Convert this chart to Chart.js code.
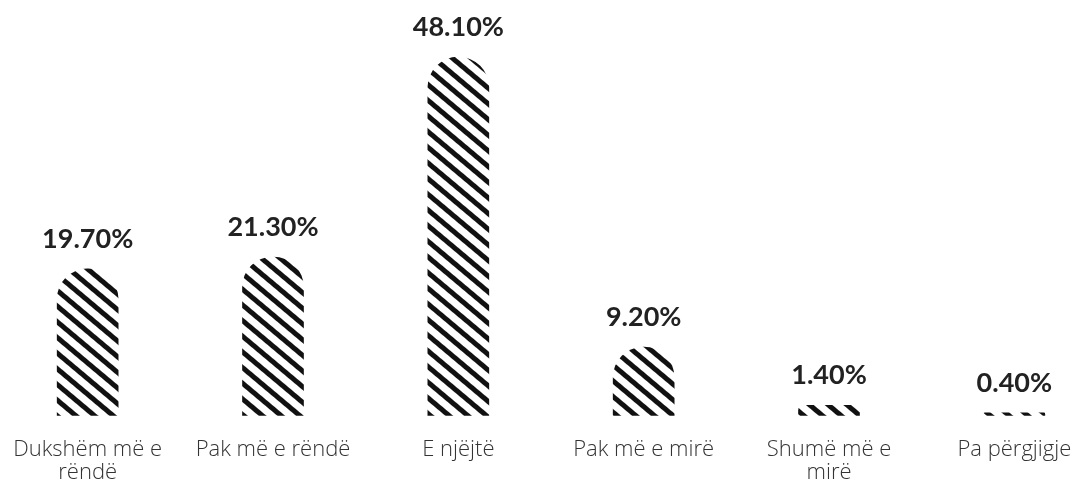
<!DOCTYPE html>
<html>
<head>
<meta charset="utf-8">
<script src="https://cdn.jsdelivr.net/npm/chart.js@4"></script>
<style>
  html, body { margin: 0; padding: 0; background: #fff; overflow: hidden; }
  #wrap { position: absolute; left: -5px; top: 0; width: 1112px; height: 498px; }
</style>
</head>
<body>
<div id="wrap"><canvas id="chart"></canvas></div>
<script>
const categories = [['Dukshëm më e', 'rëndë'], 'Pak më e rëndë', 'E njëjtë', 'Pak më e mirë', ['Shumë më e', 'mirë'], 'Pa përgjigje'];
const values = [19.7, 21.3, 48.1, 9.2, 1.4, 0.4];

// diagonal stripes like the original
function stripes() {
  const tile = document.createElement('canvas');
  tile.width = 12; tile.height = 12;
  const c = tile.getContext('2d');
  c.fillStyle = '#fff';
  c.fillRect(0, 0, 12, 12);
  c.fillStyle = '#111';
  c.fillRect(0, 0, 12, 5);
  const p = document.getElementById('chart').getContext('2d').createPattern(tile, 'repeat');
  p.setTransform(new DOMMatrix().rotate(40));
  return p;
}

const valueLabels = {
  id: 'valueLabels',
  afterDatasetsDraw(chart) {
    const ctx = chart.ctx;
    const meta = chart.getDatasetMeta(0);
    ctx.save();
    ctx.font = 'bold 27px Lato';
    ctx.fillStyle = '#222';
    ctx.textAlign = 'center';
    ctx.textBaseline = 'alphabetic';
    meta.data.forEach(function (bar, i) {
      ctx.fillText(values[i].toFixed(2) + '%', bar.x, bar.y - 21);
    });
    ctx.restore();
  }
};

new Chart('chart', {
  type: 'bar',
  data: {
    labels: categories,
    datasets: [{
      data: values,
      backgroundColor: stripes(),
      borderWidth: 0,
      borderRadius: { topLeft: 31, topRight: 31 },
      borderSkipped: 'bottom',
      barThickness: 61
    }]
  },
  options: {
    responsive: true,
    maintainAspectRatio: false,
    animation: false,
    layout: { padding: { top: 43, bottom: 0, left: 0, right: 0 } },
    plugins: { legend: { display: false }, tooltip: { enabled: false } },
    scales: {
      x: {
        grid: { display: false },
        border: { display: false },
        ticks: { color: '#333', font: { family: 'Open Sans', size: 22, weight: 300, lineHeight: 1.05 }, padding: 14, maxRotation: 0, autoSkip: false }
      },
      y: { display: false, min: 0, max: 50 }
    }
  },
  plugins: [valueLabels]
});
</script>
</body>
</html>
